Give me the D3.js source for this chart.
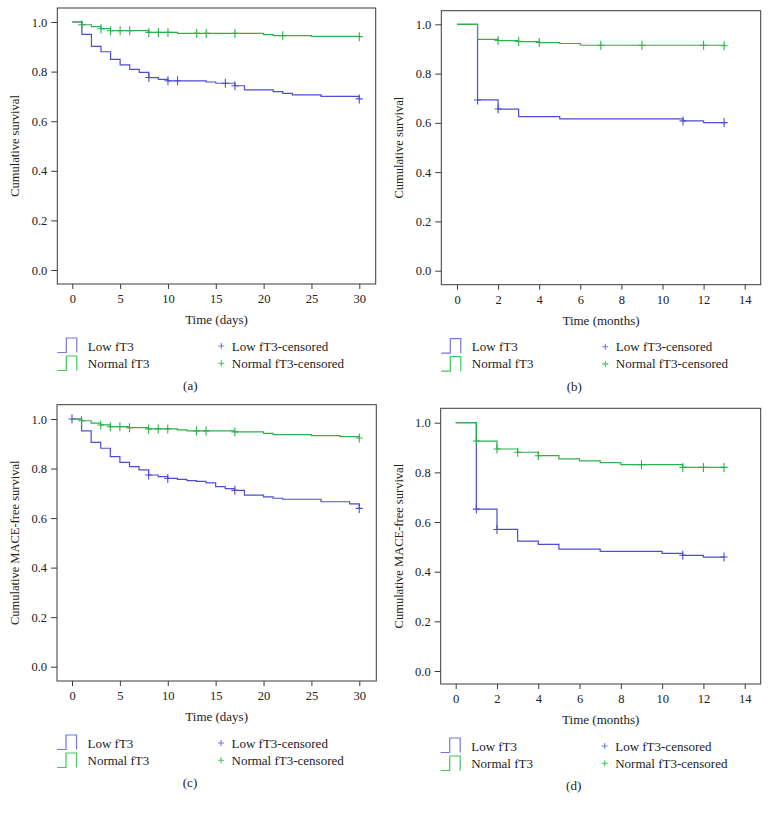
<!DOCTYPE html>
<html><head><meta charset="utf-8">
<script src="https://cdn.jsdelivr.net/npm/d3@7"></script>
<style>body{margin:0;background:#fff}svg text{font-family:"Liberation Serif","DejaVu Serif",serif;fill:#222}</style>
</head><body><svg id="c" width="769" height="813"></svg>
<script>
// ---- data: step points [time, survival], censor times ----
const aLow = [[0,1],[1,0.950],[2,0.902],[3,0.880],[4,0.849],[5,0.827],[6,0.809],[7,0.797],[8,0.776],[9,0.769],[10,0.763],[14,0.758],[15,0.753],[17,0.743],[18,0.726],[21,0.719],[22,0.712],[23,0.706],[26,0.700],[30,0.690]];
const aLowCens = [8,10,11,16,17,30];
const aNorm = [[0,1],[1,0.989],[2,0.981],[3,0.973],[4,0.965],[8,0.958],[11,0.954],[20,0.949],[21,0.945],[25,0.942],[30,0.941]];
const aNormCens = [1,3,4,5,6,8,9,10,13,14,17,22,30];

const bLow = [[0,1],[1,0.693],[2,0.656],[3,0.625],[5,0.616],[11,0.608],[12,0.601]];
const bLowCens = [1,2,11,13];
const bNorm = [[0,1],[1,0.939],[2,0.934],[3,0.930],[4,0.926],[5,0.922],[6,0.915],[13,0.913]];
const bNormCens = [2,3,4,7,9,12,13];

const cLow = [[0,1],[1,0.952],[2,0.906],[3,0.882],[4,0.848],[5,0.825],[6,0.808],[7,0.795],[8,0.774],[9,0.767],[10,0.760],[11,0.756],[12,0.751],[13,0.748],[14,0.742],[15,0.727],[16,0.719],[17,0.712],[18,0.693],[20,0.686],[21,0.680],[22,0.676],[26,0.666],[29,0.657],[30,0.639]];
const cLowCens = [0,8,10,17,30];
const cNorm = [[0,1],[1,0.993],[2,0.983],[3,0.976],[4,0.969],[6,0.965],[8,0.960],[11,0.956],[12,0.952],[17,0.948],[20,0.942],[21,0.937],[25,0.933],[28,0.929],[30,0.923]];
const cNormCens = [1,3,4,5,6,8,9,10,13,14,17,30];

const dLow = [[0,1],[1,0.652],[2,0.570],[3,0.523],[4,0.510],[5,0.491],[7,0.482],[10,0.474],[11,0.466],[12,0.459]];
const dLowCens = [1,2,11,13];
const dNorm = [[0,1],[1,0.926],[2,0.894],[3,0.881],[4,0.867],[5,0.854],[6,0.846],[7,0.839],[8,0.831],[11,0.820]];
const dNormCens = [1,2,3,4,9,11,12,13];

const daysTicks = [0,5,10,15,20,25,30];
const monthTicks = [0,2,4,6,8,10,12,14];
const yTicks = [0,0.2,0.4,0.6,0.8,1.0];
const legendLabels = ["Low fT3","Normal fT3","Low fT3-censored","Normal fT3-censored"];
const captions = ["(a)","(b)","(c)","(d)"];
const yTitles = ["Cumulative survival","Cumulative survival","Cumulative MACE-free survival","Cumulative MACE-free survival"];
const xTitles = ["Time (days)","Time (months)","Time (days)","Time (months)"];

const BLUE = "#4d4dd4", GREEN = "#2fb04c";
const BLUE_L = "#7676e2", GREEN_L = "#45c462";

const panels = [
  {low:aLow, lowC:aLowCens, norm:aNorm, normC:aNormCens, ticks:daysTicks, xmax:30,
   L:57.3,R:375.7,T:8,B:284, y1:22,y0:270, x0:72.3,x1:359.3, ylab:15},
  {low:bLow, lowC:bLowCens, norm:bNorm, normC:bNormCens, ticks:monthTicks, xmax:14,
   L:441.3,R:760.7,T:10.7,B:284.7, y1:24.3,y0:270.7, x0:457,x1:744.7, ylab:399},
  {low:cLow, lowC:cLowCens, norm:cNorm, normC:cNormCens, ticks:daysTicks, xmax:30,
   L:57,R:376.3,T:404.7,B:681, y1:419,y0:666.7, x0:72,x1:359.3, ylab:15},
  {low:dLow, lowC:dLowCens, norm:dNorm, normC:dNormCens, ticks:monthTicks, xmax:14,
   L:440.7,R:760.7,T:408.3,B:684, y1:422.7,y0:671, x0:455.7,x1:744.7, ylab:399}
];

const svg = d3.select("#c");

function stepVal(steps, t){ let v = 1; for(const s of steps){ if(s[0] <= t) v = s[1]; } return v; }

panels.forEach((p,i)=>{
  const x = d3.scaleLinear().domain([0,p.xmax]).range([p.x0,p.x1]);
  const y = d3.scaleLinear().domain([0,1]).range([p.y0,p.y1]);
  const g = svg.append("g");

  // frame
  g.append("rect").attr("x",p.L).attr("y",p.T).attr("width",p.R-p.L).attr("height",p.B-p.T)
    .attr("fill","none").attr("stroke","#3a3a3a").attr("stroke-width",1);

  // y axis
  const ya = g.append("g").attr("transform",`translate(${p.L},0)`)
    .call(d3.axisLeft(y).tickValues(yTicks).tickFormat(d3.format(".1f")).tickSize(6).tickPadding(4));
  ya.select(".domain").remove();
  ya.selectAll("line").attr("stroke","#3a3a3a");
  ya.selectAll("text").style("font-size","12.5px").attr("fill","#222");

  // x axis
  const xa = g.append("g").attr("transform",`translate(0,${p.B})`)
    .call(d3.axisBottom(x).tickValues(p.ticks).tickSize(5).tickPadding(5));
  xa.select(".domain").remove();
  xa.selectAll("line").attr("stroke","#3a3a3a");
  xa.selectAll("text").style("font-size","12.5px").attr("fill","#222");

  // titles
  g.append("text").attr("x",(p.L+p.R)/2).attr("y",p.B+40).attr("text-anchor","middle")
    .style("font-size","13px").text(xTitles[i]);
  g.append("text").attr("transform",`translate(${p.ylab+4},${(p.T+p.B)/2}) rotate(-90)`)
    .attr("text-anchor","middle").style("font-size","12.5px").text(yTitles[i]);

  // curves
  const line = d3.line().curve(d3.curveStepAfter).x(d=>x(d[0])).y(d=>y(d[1]));
  [[p.low,p.lowC,BLUE],[p.norm,p.normC,GREEN]].forEach(([steps,cens,col])=>{
    const end = Math.max(d3.max(cens), steps[steps.length-1][0]);
    const pts = steps.concat([[end, steps[steps.length-1][1]]]);
    g.append("path").attr("d",line(pts)).attr("fill","none").attr("stroke",col).attr("stroke-width",1.2);
    cens.forEach(t=>{
      const cx = x(t), cy = y(stepVal(steps,t));
      g.append("path").attr("d",`M${cx-3.5},${cy}H${cx+3.5}M${cx},${cy-4.5}V${cy+4.5}`)
        .attr("stroke",col).attr("stroke-width",1.1).attr("fill","none");
    });
  });

  // legend
  const rows = [p.B+54, p.B+72];
  [[BLUE_L,0],[GREEN_L,1]].forEach(([col,k])=>{
    const top = rows[k], bot = rows[k]+14.5;
    const lx = p.L;
    g.append("path").attr("d",`M${lx},${bot}H${lx+9}V${top}H${lx+19.5}V${bot}`)
      .attr("fill","none").attr("stroke",col).attr("stroke-width",1.2);
    g.append("text").attr("x",lx+30.5).attr("y",p.B+66.5+k*17.2).style("font-size","13px").text(legendLabels[k]);
    const px = p.L+164;
    const py = p.B+62+k*17.2;
    g.append("path").attr("d",`M${px-3},${py}H${px+3}M${px},${py-3}V${py+3}`)
      .attr("stroke",col).attr("stroke-width",1.1);
    g.append("text").attr("x",p.L+174.5).attr("y",p.B+66.5+k*17.2).style("font-size","13px").text(legendLabels[2+k]);
  });

  g.append("text").attr("x",p.L+133).attr("y",p.B+106).attr("text-anchor","middle")
    .style("font-size","13px").text(captions[i]);
});
</script></body></html>
